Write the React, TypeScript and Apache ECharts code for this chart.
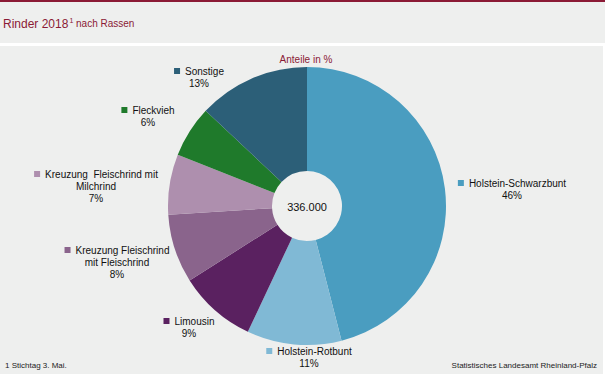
import React, { useEffect, useRef } from "react";
import * as echarts from "echarts";

const categories = [
  "Holstein-Schwarzbunt",
  "Holstein-Rotbunt",
  "Limousin",
  "Kreuzung Fleischrind\nmit Fleischrind",
  "Kreuzung  Fleischrind mit\nMilchrind",
  "Fleckvieh",
  "Sonstige",
];
const values = [46, 11, 9, 8, 7, 6, 13];
const colors = ["#4A9DC0", "#80B9D5", "#5A2160", "#8A648C", "#AE8FAE", "#1F7A2B", "#2C5F78"];
const totalLabel = "336.000";

// label anchor positions (layout only)
const labelPos: [number, number][] = [
  [512, 189],
  [309, 357],
  [189, 327],
  [117, 262],
  [96, 186],
  [148, 116],
  [199, 77],
];

export default function App() {
  const ref = useRef<HTMLDivElement>(null);
  useEffect(() => {
    if (!ref.current) return;
    const chart = echarts.init(ref.current, null, { renderer: "svg" });
    const font = "'Liberation Sans', Arial, sans-serif";
    chart.setOption({
      animation: false,
      backgroundColor: "#EEEFEE",
      textStyle: { fontFamily: font },
      graphic: [
        { type: "rect", shape: { x: 0, y: 0, width: 605, height: 2 }, style: { fill: "#8B1A35" } },
        { type: "rect", shape: { x: 0, y: 43, width: 605, height: 3 }, style: { fill: "#FFFFFF" } },
        { type: "rect", shape: { x: 603, y: 46, width: 2, height: 328 }, style: { fill: "#FFFFFF" } },
        {
          type: "text",
          left: 3,
          top: 17,
          style: {
            text: "{a|Rinder 2018}{s|1}{b| nach Rassen}",
            fontFamily: font,
            rich: {
              a: { fontSize: 12, fill: "#8B1A35", fontFamily: font },
              s: { fontSize: 7, fill: "#8B1A35", verticalAlign: "top", padding: [0, 0, 6, 1], fontFamily: font },
              b: { fontSize: 10, fill: "#8B1A35", fontFamily: font },
            },
          },
        },
        {
          type: "text",
          x: 306,
          y: 59,
          style: { text: "Anteile in %", fill: "#8B1A35", fontSize: 10, align: "center", verticalAlign: "middle", fontFamily: font },
        },
        {
          type: "text",
          x: 307,
          y: 207,
          style: { text: totalLabel, fill: "#111", fontSize: 11, align: "center", verticalAlign: "middle", fontFamily: font },
        },
        {
          type: "text",
          x: 5,
          y: 365,
          style: { text: "1 Stichtag 3. Mai.", fill: "#222", fontSize: 8, verticalAlign: "middle", fontFamily: font },
        },
        {
          type: "text",
          x: 597,
          y: 365,
          style: { text: "Statistisches Landesamt Rheinland-Pfalz", fill: "#222", fontSize: 8, align: "right", verticalAlign: "middle", fontFamily: font },
        },
      ],
      series: [
        {
          type: "pie",
          center: [307, 206],
          radius: [35, 139],
          startAngle: 90,
          clockwise: true,
          avoidLabelOverlap: false,
          data: categories.map((name, i) => ({ name, value: values[i], itemStyle: { color: colors[i] } })),
          label: {
            show: true,
            position: "outside",
            formatter: (p: any) => {
              const lines = String(p.name).split("\n");
              const first = `{sq${p.dataIndex}|}{g|}{t|${lines[0]}}`;
              const rest = lines.slice(1).map((l) => `{t|${l}}`);
              return [first, ...rest, `{t|${p.value}%}`].join("\n");
            },
            align: "center",
            rich: Object.assign(
              {
                t: { fontSize: 10, color: "#111", lineHeight: 12, fontFamily: font },
                g: { width: 5, height: 6 },
              },
              ...colors.map((c, i) => ({
                ["sq" + i]: { width: 6, height: 6, backgroundColor: c, padding: 0, align: "left" },
              }))
            ),
          },
          labelLine: { show: false },
          labelLayout: (params: any) => {
            const pos = labelPos[params.dataIndex];
            return { x: pos[0], y: pos[1], align: "center", verticalAlign: "middle" };
          },
          emphasis: { disabled: true },
        },
      ],
    });
    return () => chart.dispose();
  }, []);
  return <div ref={ref} style={{ width: 605, height: 374, position: "absolute", left: 0, top: 0 }} />;
}
